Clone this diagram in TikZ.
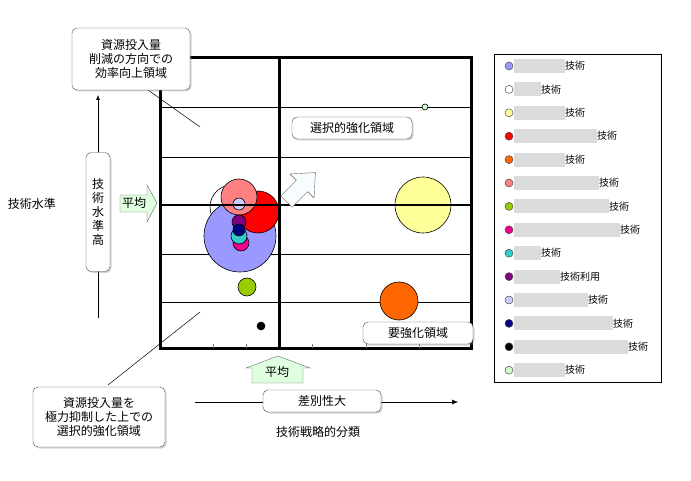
\documentclass[tikz,border=0pt]{standalone}
\usepackage{fontspec}
\setmainfont{Noto Sans CJK JP}
\usetikzlibrary{shadows,arrows.meta}
\begin{document}
\begin{tikzpicture}[x=1pt,y=-1pt,
  every node/.style={font=\fontsize{12}{14}\selectfont,inner sep=0pt},
  callout/.style={draw=black!70,fill=white,rounded corners=5pt,drop shadow={opacity=0.35,shadow xshift=1.5pt,shadow yshift=-1.5pt},align=center},
  bub/.style={draw=black,line width=0.6pt},
  thin/.style={line width=0.5pt},
  grn/.style={draw=black!60,fill=green!12}]
\useasboundingbox (0,0) rectangle (691,481);
% grid
\foreach \y in {107,157,254,302} \draw[thin] (160,\y) -- (471,\y);
% bubbles
\node[bub,circle,fill=white,minimum size=44pt] (bw) at (232,207) {};
\node[bub,circle,fill={rgb,255:red,153;green,153;blue,255},minimum size=72pt] (b1) at (240,236) {};
\node[bub,circle,fill=red,minimum size=42pt] (b4) at (258,212) {};
\node[bub,circle,fill={rgb,255:red,255;green,128;blue,128},minimum size=36pt] (b6) at (239,197) {};
\node[bub,circle,fill={rgb,255:red,204;green,204;blue,255},minimum size=12pt] (b11) at (239,204) {};
\node[bub,circle,fill=magenta,minimum size=16pt] (b8) at (241,243) {};
\node[bub,circle,fill={rgb,255:red,51;green,204;blue,204},minimum size=16pt] (b9) at (239,236) {};
\node[bub,circle,fill={rgb,255:red,128;green,0;blue,128},minimum size=14pt] (b10) at (239,222) {};
\node[bub,circle,fill={rgb,255:red,0;green,0;blue,128},minimum size=12pt] (b12) at (239,230) {};
\node[bub,circle,fill={rgb,255:red,153;green,204;blue,0},minimum size=18pt] (b7) at (247,287) {};
\node[bub,circle,fill=black,minimum size=8pt] (b13) at (261,326) {};
\node[bub,circle,fill={rgb,255:red,255;green,255;blue,153},minimum size=56pt] (b3) at (423,205) {};
\node[bub,circle,fill={rgb,255:red,255;green,102;blue,0},minimum size=38pt] (b5) at (399,301) {};
\node[bub,circle,fill={rgb,255:red,204;green,255;blue,204},minimum size=6pt] (b14) at (425,107) {};
% frame
\draw[line width=3pt] (160,58) rectangle (471,348);
\draw[line width=3pt] (279,58) -- (279,348);
\draw[line width=2pt] (160,205) -- (471,205);
\foreach \x in {213,246,312,366,419} \draw[thin,black!50] (\x,344) -- (\x,348);
% hollow arrow
\draw[black!60,fill=cyan!3,shift={(302,186)},rotate=-45] (-8,22) -- (-8,0) -- (-17,0) -- (0,-19) -- (17,0) -- (8,0) -- (8,22) -- cycle;
% boxes in plot
\node[callout,minimum width=120pt,minimum height=22pt] (sel) at (352,128) {選択的強化領域};
\node[callout,minimum width=110pt,minimum height=22pt] (req) at (418,333) {要強化領域};
% callouts
\coordinate (l1a) at (148,90); \coordinate (l1b) at (200,127);
\coordinate (l2a) at (108,385); \coordinate (l2b) at (200,312);
\draw[thin] (l1a) -- (l1b);
\draw[thin] (l2a) -- (l2b);
\node[callout,minimum width=118pt,minimum height=62pt] (tl) at (131,59) {資源投入量\\削減の方向での\\効率向上領域};
\node[callout,minimum width=132pt,minimum height=60pt] (bl) at (99,417) {資源投入量を\\極力抑制した上での\\選択的強化領域};
% axes
\coordinate (va) at (98,318); \coordinate (vb) at (98,95);
\draw[thin,-{Latex[length=5pt,width=4pt]}] (va) -- (vb);
\node[callout,minimum width=24pt,minimum height=119pt] (vh) at (98,212) {技\\術\\水\\準\\高};
\coordinate (ha) at (195,402); \coordinate (hb) at (458,402);
\draw[thin,-{Latex[length=6pt,width=5pt]}] (ha) -- (hb);
\node[callout,minimum width=118pt,minimum height=22pt] (hd) at (322,401) {差別性大};
\node (tech) at (32,204) {技術水準};
\node (cls) at (318,432) {技術戦略的分類};
% green arrows
\draw[grn] (120,195) -- (147,195) -- (147,185) -- (157,203) -- (147,222) -- (147,212) -- (120,212) -- cycle;
\node (avg1) at (134,203) {平均};
\draw[grn] (252,383) -- (252,368) -- (246,368) -- (278,356) -- (310,368) -- (303,368) -- (303,383) -- cycle;
\node (avg2) at (277,372) {平均};
% legend
\draw[thin] (494,54) rectangle (661,382);
\foreach \c/\e/\t [count=\i from 0] in {
 {rgb,255:red,153;green,153;blue,255}/565/技術,
 white/541/技術,
 {rgb,255:red,255;green,255;blue,153}/565/技術,
 red/597/技術,
 {rgb,255:red,255;green,102;blue,0}/565/技術,
 {rgb,255:red,255;green,128;blue,128}/599/技術,
 {rgb,255:red,153;green,204;blue,0}/609/技術,
 magenta/620/技術,
 {rgb,255:red,51;green,204;blue,204}/541/技術,
 {rgb,255:red,128;green,0;blue,128}/560/技術利用,
 {rgb,255:red,204;green,204;blue,255}/588/技術,
 {rgb,255:red,0;green,0;blue,128}/613/技術,
 black/628/技術,
 {rgb,255:red,204;green,255;blue,204}/565/技術}{
 \pgfmathsetmacro{\yy}{66+23.4*\i}
 \fill[black!14] (514,\yy-7) rectangle (\e,\yy+7);
 \node[draw=black!70,line width=0.5pt,circle,fill=\c,minimum size=8pt] (lg\i) at (509,\yy) {};
 \node[anchor=west,font=\fontsize{10}{12}\selectfont] (lt\i) at (\e,\yy) {\t};
}
\end{tikzpicture}
\end{document}
